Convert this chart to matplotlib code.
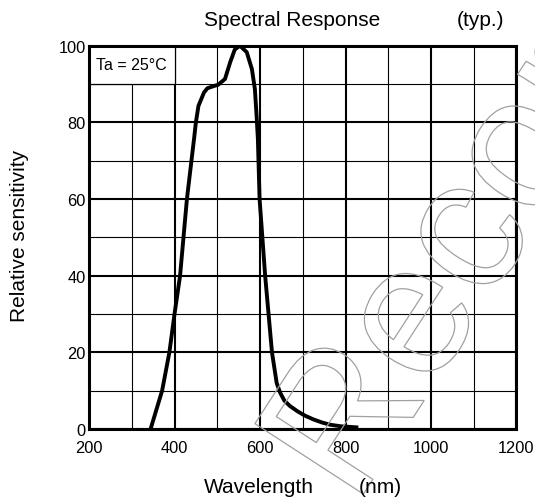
import matplotlib
matplotlib.use("Agg")
import matplotlib.pyplot as plt
from matplotlib.patches import Rectangle, PathPatch
from matplotlib.textpath import TextPath
from matplotlib.font_manager import FontProperties
from matplotlib.transforms import Affine2D

plt.rcParams["font.family"] = ["Liberation Sans", "DejaVu Sans"]

# spectral response curve
wavelength = [344, 371, 388, 400, 413, 421, 429, 446, 450, 456, 469, 477, 490, 502,
              518, 530, 541, 553, 569, 581, 588, 592, 595, 599, 612, 628, 639, 647,
              657, 670, 688, 705, 725, 745, 765, 790, 830]
sensitivity = [0, 10, 20, 30, 40, 50, 60, 76, 80, 84.3, 87.8, 88.9, 89.4, 89.8,
               91.3, 95.6, 99, 100, 98.3, 93.9, 88.7, 81.7, 75.7, 60, 40, 20, 12, 9.5,
               7.4, 6.0, 4.6, 3.5, 2.5, 1.7, 1.1, 0.7, 0.4]

x_ticks = [200, 400, 600, 800, 1000, 1200]
y_ticks = [0, 20, 40, 60, 80, 100]
x_minor = [300, 500, 700, 900, 1100]
y_minor = [10, 30, 50, 70, 90]

fig = plt.figure(figsize=(5.35, 5.02), dpi=100)
ax = fig.add_axes([0.1664, 0.1434, 0.799, 0.7636])

ax.set_xlim(200, 1200)
ax.set_ylim(0, 100)
ax.set_xticks(x_ticks)
ax.set_yticks(y_ticks)
ax.set_xticks(x_minor, minor=True)
ax.set_yticks(y_minor, minor=True)
ax.tick_params(which="both", length=0)
ax.tick_params(axis="x", labelsize=11.8, pad=8)
ax.tick_params(axis="y", labelsize=11.8, pad=2.5)
ax.set_axisbelow(True)
ax.grid(which="major", color="black", linewidth=1.5)
ax.grid(which="minor", color="black", linewidth=0.8)
for s in ax.spines.values():
    s.set_linewidth(2.2)

# label box in the top-left corner
ax.add_patch(Rectangle((200, 90), 200, 10, facecolor="white", edgecolor="black",
                       linewidth=0.9, zorder=1))
ax.text(217, 95, "Ta = 25°C", fontsize=11.5, va="center", ha="left", zorder=2)

ax.plot(wavelength, sensitivity, color="black", linewidth=2.8,
        solid_joinstyle="round", solid_capstyle="butt", zorder=3)

fig.text(0.5466, 0.959, "Spectral Response", fontsize=15, ha="center", va="center")
fig.text(0.899, 0.959, "(typ.)", fontsize=15, ha="center", va="center")
fig.text(0.484, 0.029, "Wavelength", fontsize=15, ha="center", va="center")
fig.text(0.71, 0.029, "(nm)", fontsize=15, ha="center", va="center")
fig.text(0.037, 0.53, "Relative sensitivity", fontsize=15, ha="center",
         va="center", rotation=90)

# outlined watermark
tp = TextPath((0, 0), "Recommended", size=188, prop=FontProperties(family="Liberation Sans"))
tr = Affine2D().rotate_deg(57).translate(355, 502 - 508).scale(1 / 100) + fig.dpi_scale_trans
fig.add_artist(PathPatch(tp, transform=tr, fill=False, edgecolor="#a0a0a0", linewidth=0.9))

fig.savefig("out.png", dpi=100)
